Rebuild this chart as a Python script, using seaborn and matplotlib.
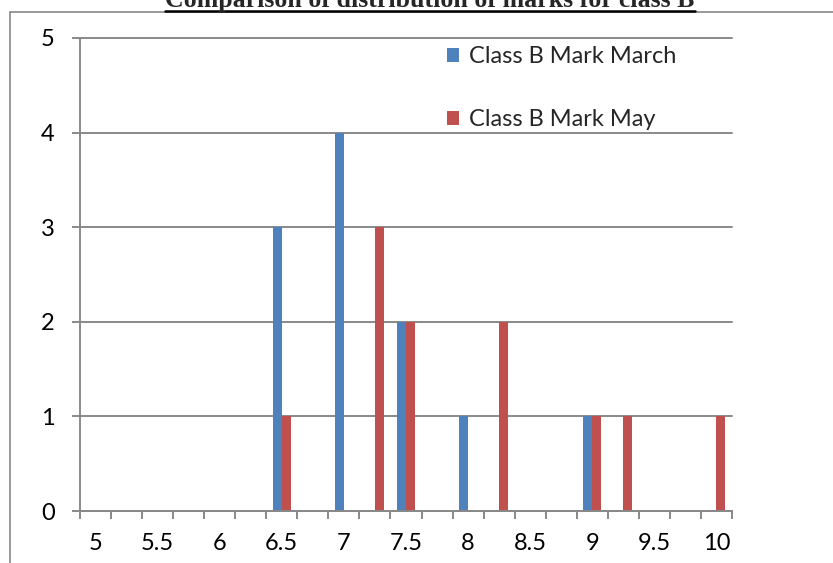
import matplotlib
matplotlib.use("Agg")
import matplotlib.pyplot as plt
from matplotlib.lines import Line2D
import seaborn as sns
import pandas as pd

# ---- data ----
categories = ["5", "5.25", "5.5", "5.75", "6", "6.25", "6.5", "6.75", "7", "7.25", "7.5",
              "7.75", "8", "8.25", "8.5", "8.75", "9", "9.25", "9.5", "9.75", "10"]
march_counts = [0, 0, 0, 0, 0, 0, 3, 0, 4, 0, 2, 0, 1, 0, 0, 0, 1, 0, 0, 0, 0]
may_counts = [0, 0, 0, 0, 0, 0, 1, 0, 0, 3, 2, 0, 0, 2, 0, 0, 1, 1, 0, 0, 1]
series_names = ["Class B Mark March", "Class B Mark May"]
tick_labels = ["5", "5.5", "6", "6.5", "7", "7.5", "8", "8.5", "9", "9.5", "10"]
y_ticks = [0, 1, 2, 3, 4, 5]
title = "Comparison of distribution of marks for class B"

df = pd.DataFrame({
    "mark": categories * 2,
    "count": march_counts + may_counts,
    "series": [series_names[0]] * len(categories) + [series_names[1]] * len(categories),
})

W, H = 833, 563
sns.set_theme(style="white")
plt.rcParams["font.family"] = ["Lato", "DejaVu Sans"]
GRAY = "#898989"
FS = 17

fig = plt.figure(figsize=(W / 100, H / 100), dpi=100)
ax = fig.add_axes([80 / W, (H - 511) / H, (732 - 80) / W, (511 - 38) / H])

sns.barplot(data=df, x="mark", y="count", hue="series", order=categories,
            hue_order=series_names, palette=["#4F81BD", "#C0504D"],
            width=0.58, saturation=1, linewidth=0, ax=ax)

ax.set_xlim(-0.5, len(categories) - 0.5)
ax.set_ylim(0, 5)
ax.set_xlabel("")
ax.set_ylabel("")
ax.set_axisbelow(True)

# y axis
ax.set_yticks(y_ticks)
ax.set_yticklabels([str(v) for v in y_ticks], fontsize=FS, color="black")
ax.yaxis.grid(True, color=GRAY, linewidth=1.4)
for gl in ax.get_ygridlines():
    gl.set_clip_on(False)
ax.tick_params(axis="y", which="major", direction="out", length=5.8, width=1.4,
               color=GRAY, pad=12.5, left=True)

# x axis: labels on every other category, tick marks on category boundaries
ax.set_xticks(list(range(0, len(categories), 2)))
ax.set_xticklabels(tick_labels, fontsize=FS, color="black")
ax.set_xticks([i - 0.5 for i in range(len(categories) + 1)], minor=True)
ax.tick_params(axis="x", which="major", length=0, pad=15.5, bottom=True)
ax.tick_params(axis="x", which="minor", direction="out", length=5.8, width=1.4,
               color=GRAY, bottom=True)

for s in ["top", "right"]:
    ax.spines[s].set_visible(False)
for s in ["left", "bottom"]:
    ax.spines[s].set_color(GRAY)
    ax.spines[s].set_linewidth(1.4)

# legend
handles, labels = ax.get_legend_handles_labels()
ax.legend(handles, labels, loc="upper left",
          bbox_to_anchor=(447 / W, (H - 46) / H), bbox_transform=fig.transFigure,
          frameon=False, fontsize=FS, borderpad=0, borderaxespad=0,
          handlelength=0.52, handleheight=0.52, handletextpad=0.4, labelspacing=1.79)

# chart border (top and left only visible)
fig.add_artist(Line2D([10 / W, 10 / W], [(H - 12) / H, 0], transform=fig.transFigure,
                      color=GRAY, linewidth=1.2))
fig.add_artist(Line2D([10 / W, 1], [(H - 12) / H, (H - 12) / H], transform=fig.transFigure,
                      color=GRAY, linewidth=1.2))

# title, bold serif, underlined, cut off at top as in the reference
t = fig.text(430 / W, (H - 7) / H, title, ha="center", va="baseline",
             fontsize=18.6, fontweight="bold", family=["Liberation Serif", "DejaVu Serif"])
fig.canvas.draw()
bb = t.get_window_extent(renderer=fig.canvas.get_renderer())
fig.add_artist(Line2D([bb.x0 / W, bb.x1 / W], [(H - 10.5) / H, (H - 10.5) / H],
                      transform=fig.transFigure, color="black", linewidth=1.8))

fig.savefig("out.png", dpi=100)
